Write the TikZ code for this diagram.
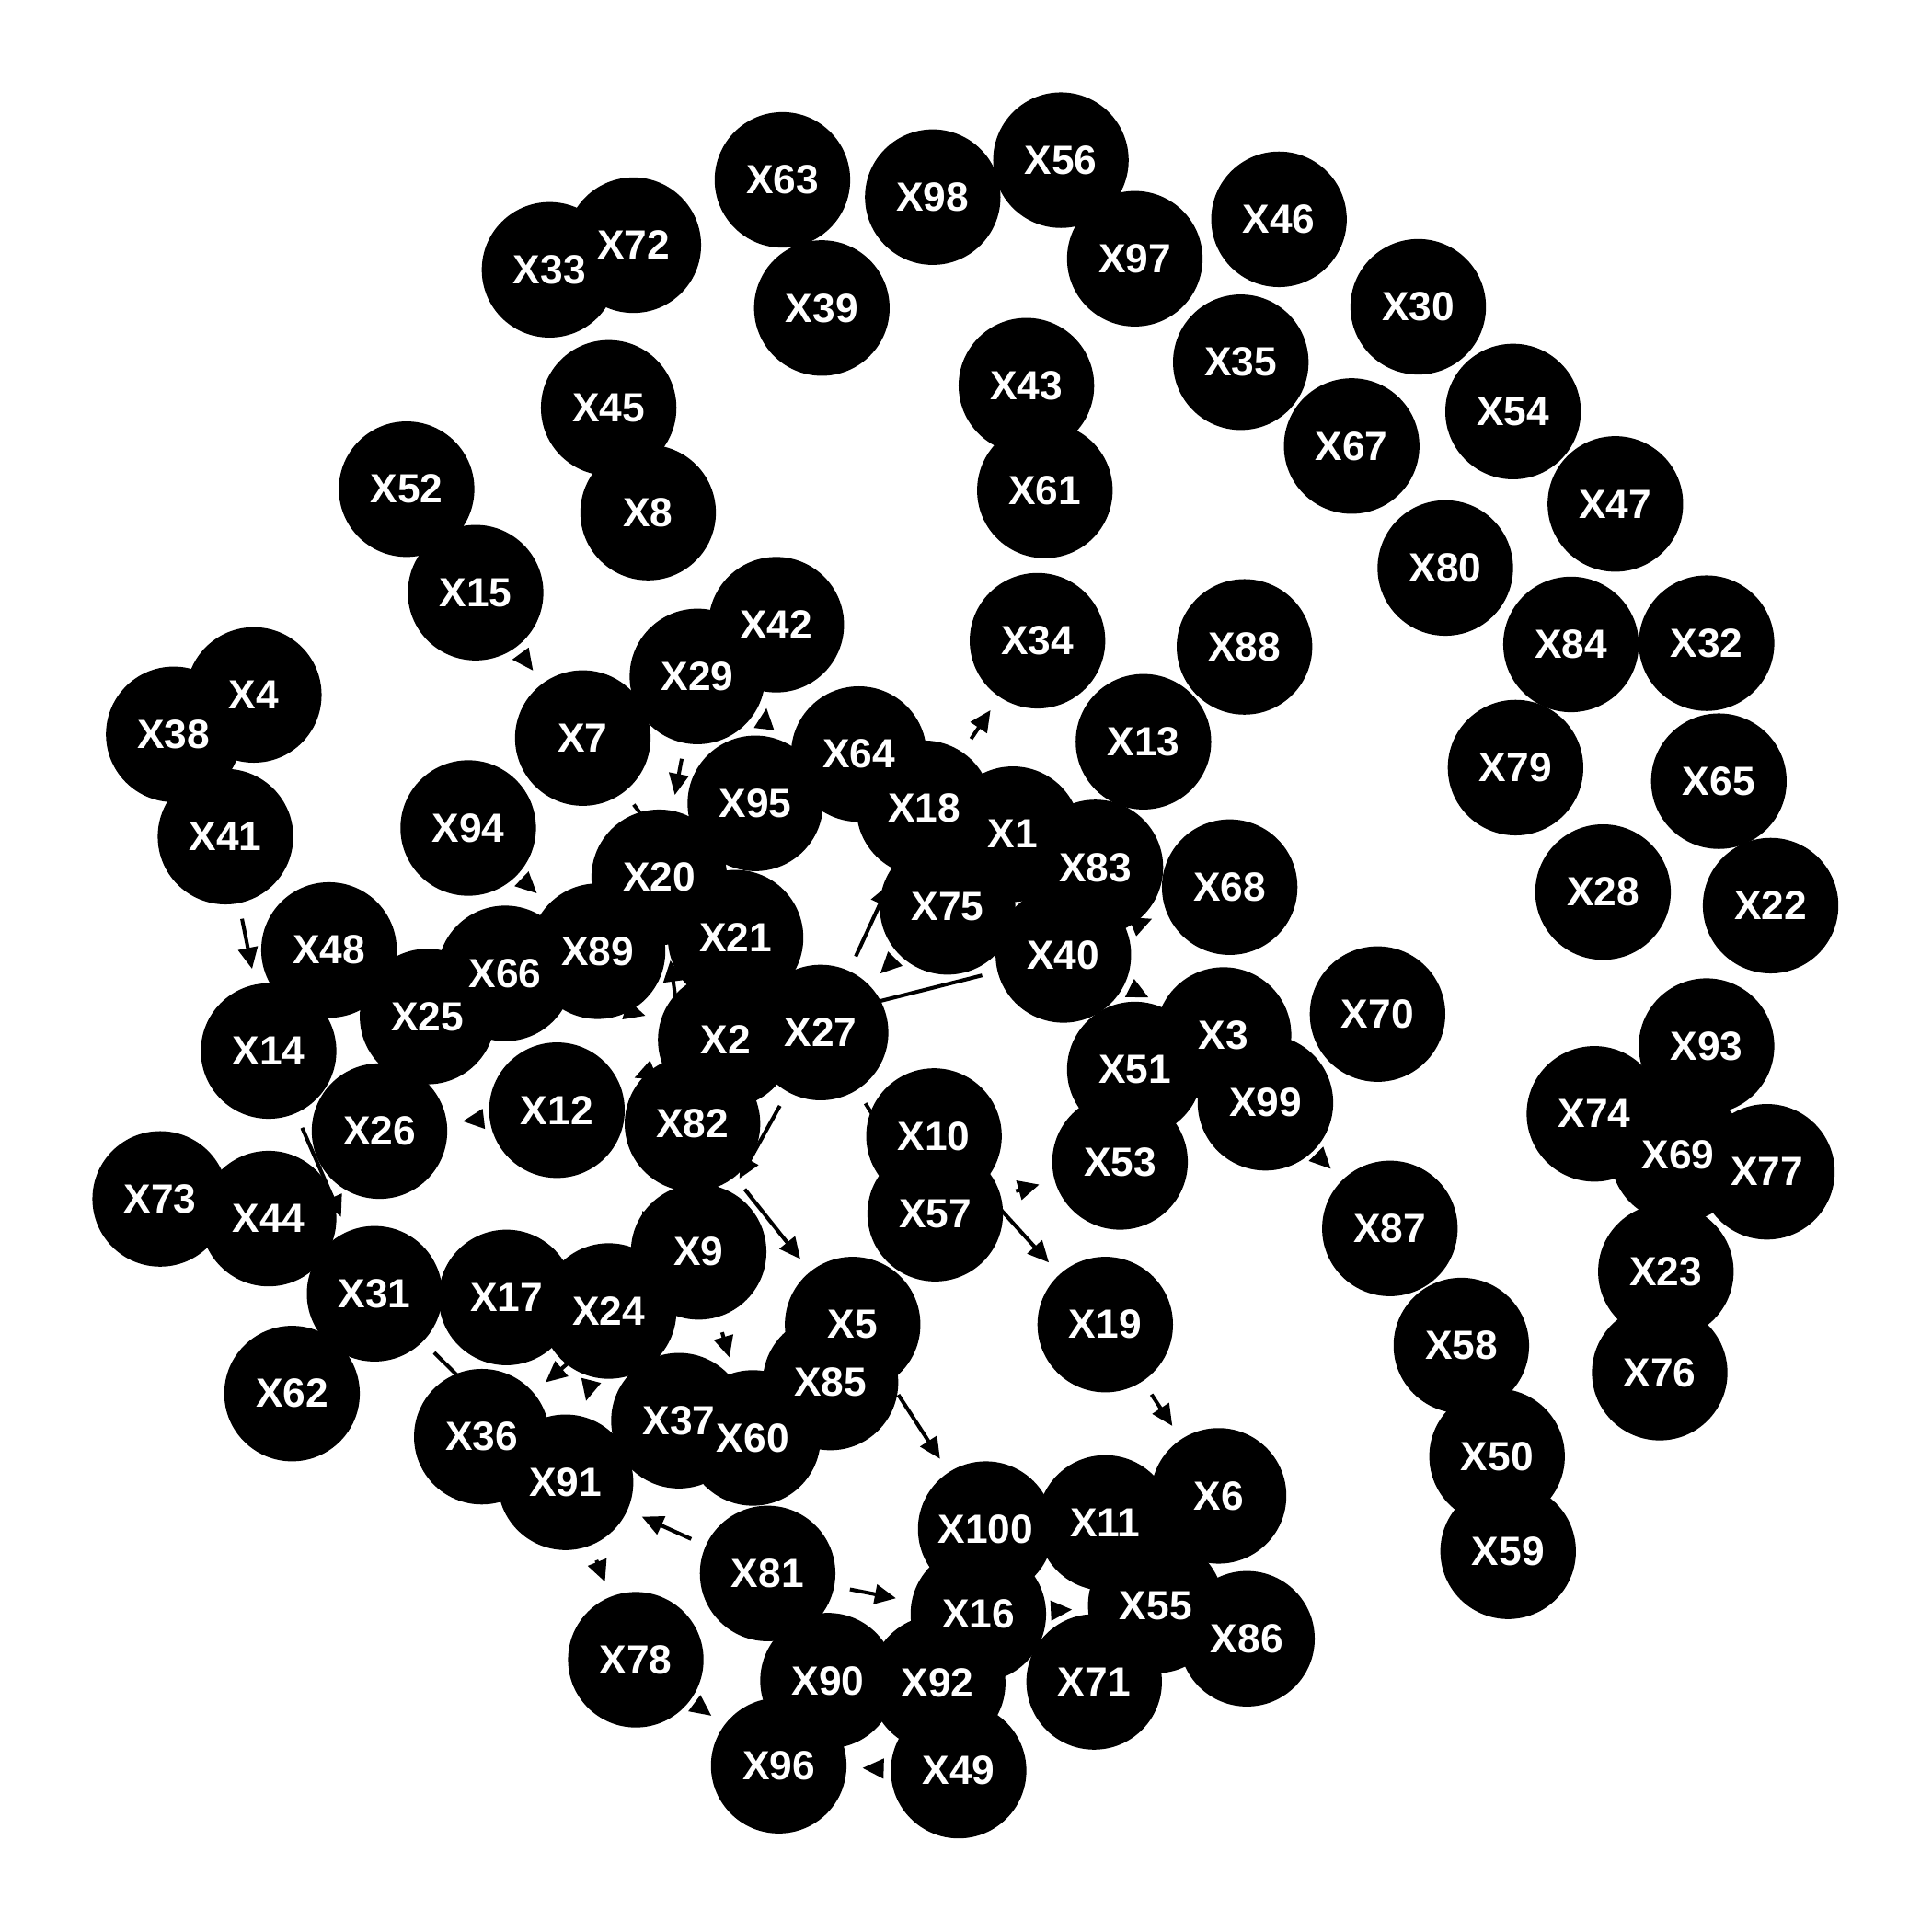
\documentclass[tikz,border=0pt]{standalone}
\usepackage{fontspec}
\setsansfont{Liberation Sans}
\usetikzlibrary{arrows.meta,backgrounds}

\begin{document}
\begin{tikzpicture}[
      x=0.012755cm,y=-0.012755cm,
      vertex/.style={circle,fill=black,draw=none,minimum size=1.403cm,
      inner sep=0pt,outer sep=0.166cm},
      tag/.style={text=white,font=\sffamily\bfseries\fontsize{12}{14}\selectfont},
      link/.style={-{Triangle[length=2.2mm,width=2mm]},line width=1.1pt,draw=black}
    ]
    \useasboundingbox (0,0) rectangle (1568,1568);
    \node[vertex] at (822,677) (x1) {};
    \node[vertex] at (589,844) (x2) {};
    \node[vertex] at (993,840) (x3) {};
    \node[vertex] at (206,564) (x4) {};
    \node[vertex] at (692,1075) (x5) {};
    \node[vertex] at (989,1214) (x6) {};
    \node[vertex] at (473,599) (x7) {};
    \node[vertex] at (526,416) (x8) {};
    \node[vertex] at (567,1016) (x9) {};
    \node[vertex] at (758,922) (x10) {};
    \node[vertex] at (897,1236) (x11) {};
    \node[vertex] at (452,901) (x12) {};
    \node[vertex] at (928,602) (x13) {};
    \node[vertex] at (218,853) (x14) {};
    \node[vertex] at (386,481) (x15) {};
    \node[vertex] at (794,1310) (x16) {};
    \node[vertex] at (411,1053) (x17) {};
    \node[vertex] at (750,656) (x18) {};
    \node[vertex] at (897,1075) (x19) {};
    \node[vertex] at (535,712) (x20) {};
    \node[vertex] at (597,761) (x21) {};
    \node[vertex] at (1437,735) (x22) {};
    \node[vertex] at (1352,1032) (x23) {};
    \node[vertex] at (494,1064) (x24) {};
    \node[vertex] at (347,825) (x25) {};
    \node[vertex] at (308,918) (x26) {};
    \node[vertex] at (666,838) (x27) {};
    \node[vertex] at (1301,724) (x28) {};
    \node[vertex] at (566,549) (x29) {};
    \node[vertex] at (1151,249) (x30) {};
    \node[vertex] at (304,1050) (x31) {};
    \node[vertex] at (1385,522) (x32) {};
    \node[vertex] at (446,219) (x33) {};
    \node[vertex] at (842,520) (x34) {};
    \node[vertex] at (1007,294) (x35) {};
    \node[vertex] at (391,1166) (x36) {};
    \node[vertex] at (551,1153) (x37) {};
    \node[vertex] at (141,596) (x38) {};
    \node[vertex] at (667,250) (x39) {};
    \node[vertex] at (863,775) (x40) {};
    \node[vertex] at (183,679) (x41) {};
    \node[vertex] at (630,507) (x42) {};
    \node[vertex] at (833,313) (x43) {};
    \node[vertex] at (218,989) (x44) {};
    \node[vertex] at (494,331) (x45) {};
    \node[vertex] at (1038,178) (x46) {};
    \node[vertex] at (1311,409) (x47) {};
    \node[vertex] at (267,771) (x48) {};
    \node[vertex] at (778,1437) (x49) {};
    \node[vertex] at (1215,1182) (x50) {};
    \node[vertex] at (921,868) (x51) {};
    \node[vertex] at (330,397) (x52) {};
    \node[vertex] at (909,943) (x53) {};
    \node[vertex] at (1228,334) (x54) {};
    \node[vertex] at (938,1303) (x55) {};
    \node[vertex] at (861,130) (x56) {};
    \node[vertex] at (759,985) (x57) {};
    \node[vertex] at (1186,1092) (x58) {};
    \node[vertex] at (1224,1259) (x59) {};
    \node[vertex] at (611,1167) (x60) {};
    \node[vertex] at (848,398) (x61) {};
    \node[vertex] at (237,1131) (x62) {};
    \node[vertex] at (635,146) (x63) {};
    \node[vertex] at (697,612) (x64) {};
    \node[vertex] at (1395,634) (x65) {};
    \node[vertex] at (410,790) (x66) {};
    \node[vertex] at (1097,362) (x67) {};
    \node[vertex] at (998,720) (x68) {};
    \node[vertex] at (1362,937) (x69) {};
    \node[vertex] at (1118,823) (x70) {};
    \node[vertex] at (888,1365) (x71) {};
    \node[vertex] at (514,199) (x72) {};
    \node[vertex] at (130,973) (x73) {};
    \node[vertex] at (1294,904) (x74) {};
    \node[vertex] at (769,736) (x75) {};
    \node[vertex] at (1347,1114) (x76) {};
    \node[vertex] at (1434,951) (x77) {};
    \node[vertex] at (516,1347) (x78) {};
    \node[vertex] at (1230,623) (x79) {};
    \node[vertex] at (1173,461) (x80) {};
    \node[vertex] at (623,1277) (x81) {};
    \node[vertex] at (562,912) (x82) {};
    \node[vertex] at (889,704) (x83) {};
    \node[vertex] at (1275,523) (x84) {};
    \node[vertex] at (674,1122) (x85) {};
    \node[vertex] at (1012,1330) (x86) {};
    \node[vertex] at (1128,997) (x87) {};
    \node[vertex] at (1010,525) (x88) {};
    \node[vertex] at (485,772) (x89) {};
    \node[vertex] at (672,1364) (x90) {};
    \node[vertex] at (459,1203) (x91) {};
    \node[vertex] at (761,1366) (x92) {};
    \node[vertex] at (1385,849) (x93) {};
    \node[vertex] at (380,672) (x94) {};
    \node[vertex] at (613,652) (x95) {};
    \node[vertex] at (632,1433) (x96) {};
    \node[vertex] at (921,210) (x97) {};
    \node[vertex] at (757,160) (x98) {};
    \node[vertex] at (1027,895) (x99) {};
    \node[vertex] at (800,1241) (x100) {};
    % labels go over every disc
    \foreach \n in {1,...,100} \node[tag] at (x\n.center) {X\n};
    % edges sit behind the discs
    \begin{pgfonlayer}{background}
    \draw[link] (x15) -- (x7);
    \draw[link] (x95) -- (x42);
    \draw[link] (x29) -- (x20);
    \draw[link] (x7) -- (x21);
    \draw[link] (x27) -- (x18);
    \draw[link] (x75) -- (x27);
    \draw[link] (x40) -- (x2);
    \draw[link] (x40) -- (x68);
    \draw[link] (x40) -- (x3);
    \draw[link] (x66) -- (x2);
    \draw[link] (x82) -- (x20);
    \draw[link] (x2) -- (x12);
    \draw[link] (x12) -- (x26);
    \draw[link] (x27) -- (x9);
    \draw[link] (x82) -- (x5);
    \draw[link] (x82) -- (x24);
    \draw[link] (x14) -- (x31);
    \draw[link] (x31) -- (x91);
    \draw[link] (x9) -- (x36);
    \draw[link] (x24) -- (x91);
    \draw[link] (x9) -- (x60);
    \draw[link] (x5) -- (x100);
    \draw[link] (x27) -- (x57);
    \draw[link] (x57) -- (x53);
    \draw[link] (x10) -- (x19);
    \draw[link] (x19) -- (x6);
    \draw[link] (x16) -- (x55);
    \draw[link] (x81) -- (x91);
    \draw[link] (x91) -- (x78);
    \draw[link] (x81) -- (x16);
    \draw[link] (x78) -- (x96);
    \draw[link] (x49) -- (x96);
    \draw[link] (x18) -- (x34);
    \draw[link] (x41) -- (x14);
    \draw[link] (x94) -- (x89);
    \draw[link] (x99) -- (x87);
    \end{pgfonlayer}
  \end{tikzpicture}
\end{document}
